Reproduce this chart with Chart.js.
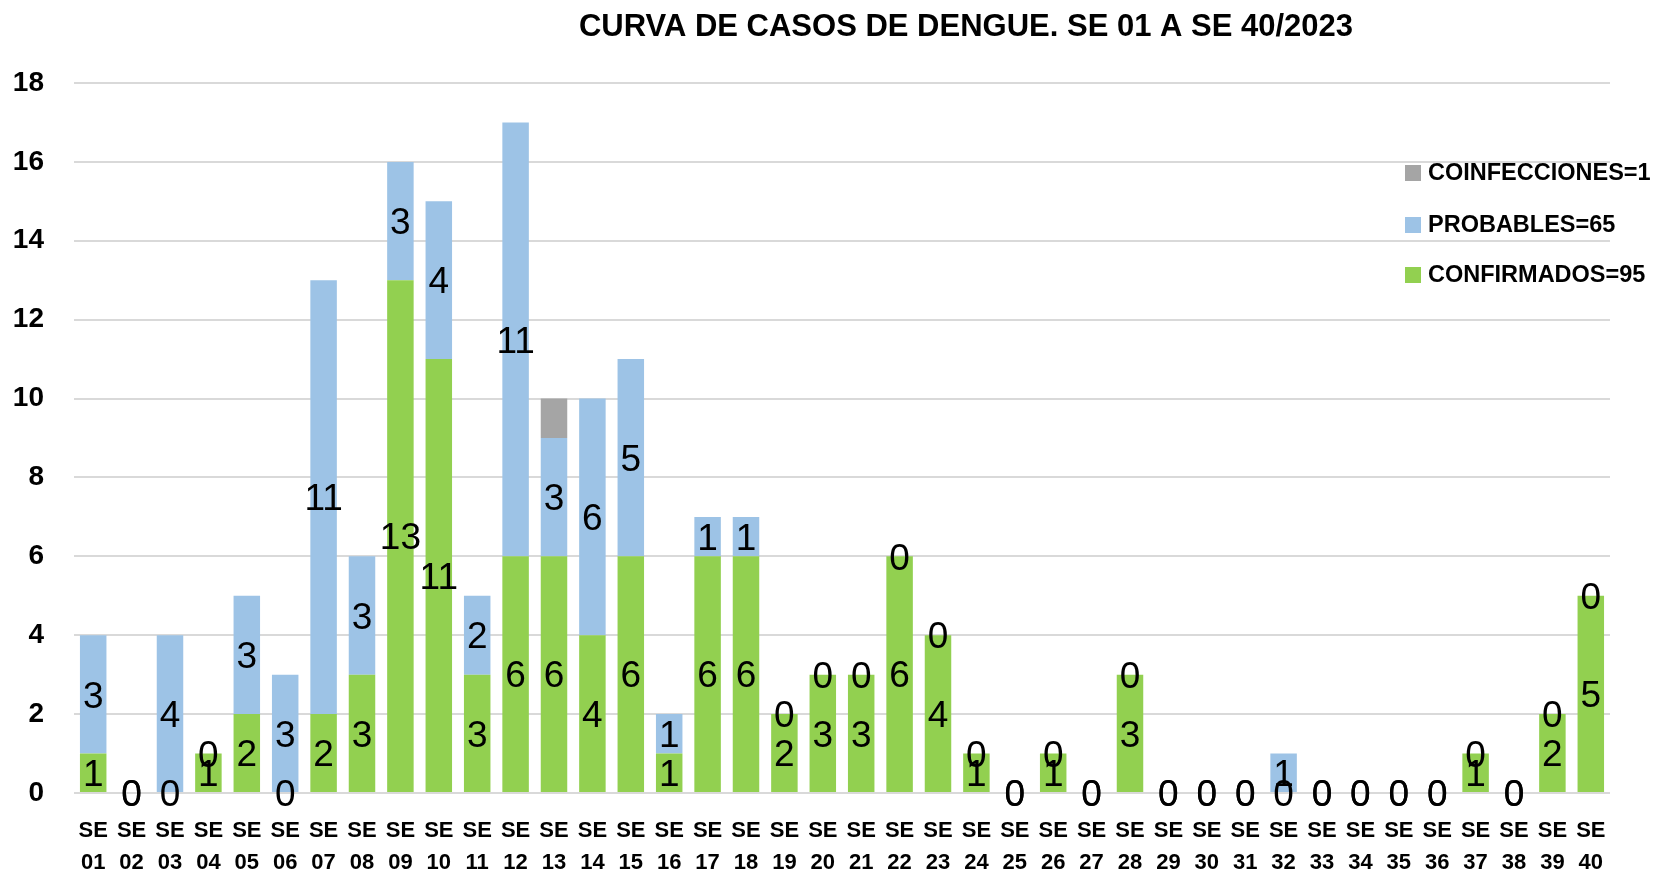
<!DOCTYPE html>
<html>
<head>
<meta charset="utf-8">
<script src="https://cdn.jsdelivr.net/npm/chart.js@4.4.1/dist/chart.umd.min.js"></script>
<style>
  html, body { margin: 0; padding: 0; background: #ffffff; }
  #wrap { position: relative; width: 1663px; height: 873px; }
</style>
</head>
<body>
<div id="wrap"><canvas id="c" width="1663" height="873"></canvas></div>
<script>
const chartTitle = 'CURVA DE CASOS DE DENGUE. SE 01 A SE 40/2023';
const weeks = ['01','02','03','04','05','06','07','08','09','10','11','12','13','14','15','16','17','18','19','20',
               '21','22','23','24','25','26','27','28','29','30','31','32','33','34','35','36','37','38','39','40'];
const confirmados = [1,0,0,1,2,0,2,3,13,11,3,6,6,4,6,1,6,6,2,3,3,6,4,1,0,1,0,3,0,0,0,0,0,0,0,0,1,0,2,5];
const probables   = [3,0,4,0,3,3,11,3,3,4,2,11,3,6,5,1,1,1,0,0,0,0,0,0,0,0,0,0,0,0,0,1,0,0,0,0,0,0,0,0];
const coinfecciones = [0,0,0,0,0,0,0,0,0,0,0,0,1,0,0,0,0,0,0,0,0,0,0,0,0,0,0,0,0,0,0,0,0,0,0,0,0,0,0,0];
const seriesNames = ['CONFIRMADOS=95', 'PROBABLES=65', 'COINFECCIONES=1'];
const yTicks = [0,2,4,6,8,10,12,14,16,18];

const BOLD = "'Liberation Sans Narrow', 'Liberation Sans', Arial, sans-serif";
const WIDE = "'Liberation Sans', Arial, sans-serif";
const REG = "'Liberation Sans', Arial, sans-serif";

const labels = weeks.map(w => ['SE', w]);

const valueLabels = {
  id: 'valueLabels',
  afterDatasetsDraw(chart) {
    const ctx = chart.ctx;
    ctx.save();
    ctx.font = "37px " + REG;
    ctx.fillStyle = '#000';
    ctx.textAlign = 'center';
    ctx.textBaseline = 'middle';
    [0, 1].forEach(di => {
      const meta = chart.getDatasetMeta(di);
      const data = chart.data.datasets[di].data;
      meta.data.forEach((el, i) => {
        const y = (el.y + el.base) / 2;
        ctx.fillText(String(data[i]), el.x, y + 3);
      });
    });
    ctx.restore();
  }
};

const titleAndLegend = {
  id: 'titleAndLegend',
  afterDraw(chart) {
    const ctx = chart.ctx;
    ctx.save();
    ctx.fillStyle = '#000';
    ctx.font = "bold 31px " + BOLD;
    ctx.textAlign = 'center';
    ctx.textBaseline = 'middle';
    ctx.fillText(chartTitle, 966, 27);

    const ds = chart.data.datasets;
    const order = [2, 1, 0];
    const ys = [173, 225, 275];
    ctx.font = "bold 23.5px " + BOLD;
    ctx.textAlign = 'left';
    order.forEach((di, k) => {
      ctx.fillStyle = ds[di].backgroundColor;
      ctx.fillRect(1405, ys[k] - 8, 16, 16);
      ctx.fillStyle = '#000';
      ctx.fillText(ds[di].label, 1428, ys[k] + 1);
    });
    ctx.restore();
  }
};

new Chart(document.getElementById('c'), {
  type: 'bar',
  data: {
    labels: labels,
    datasets: [
      { label: seriesNames[0], data: confirmados, backgroundColor: '#92D050' },
      { label: seriesNames[1], data: probables, backgroundColor: '#9DC3E6' },
      { label: seriesNames[2], data: coinfecciones, backgroundColor: '#A5A5A5' }
    ]
  },
  options: {
    responsive: false,
    animation: false,
    devicePixelRatio: 1,
    layout: { padding: { top: 83, right: 53, left: 0, bottom: 0 } },
    datasets: { bar: { categoryPercentage: 1.0, barPercentage: 0.69 } },
    plugins: {
      legend: { display: false },
      title: { display: false },
      tooltip: { enabled: false }
    },
    scales: {
      x: {
        stacked: true,
        grid: { display: false, drawTicks: false },
        border: { display: false },
        ticks: {
          color: '#000',
          font: { family: BOLD, size: 22, weight: 'bold', lineHeight: 1.45 },
          padding: 22,
          maxRotation: 0,
          autoSkip: false
        },
        afterFit(s) { s.height = 80; }
      },
      y: {
        stacked: true,
        min: 0, max: 18,
        afterBuildTicks(s) { s.ticks = yTicks.map(v => ({ value: v })); },
        grid: { color: '#D9D9D9', lineWidth: 2, drawTicks: false },
        border: { display: false },
        ticks: {
          color: '#000',
          font: { family: WIDE, size: 28, weight: 'bold' },
          padding: 30
        },
        afterFit(s) { s.width = 74; }
      }
    }
  },
  plugins: [valueLabels, titleAndLegend]
});
</script>
</body>
</html>
